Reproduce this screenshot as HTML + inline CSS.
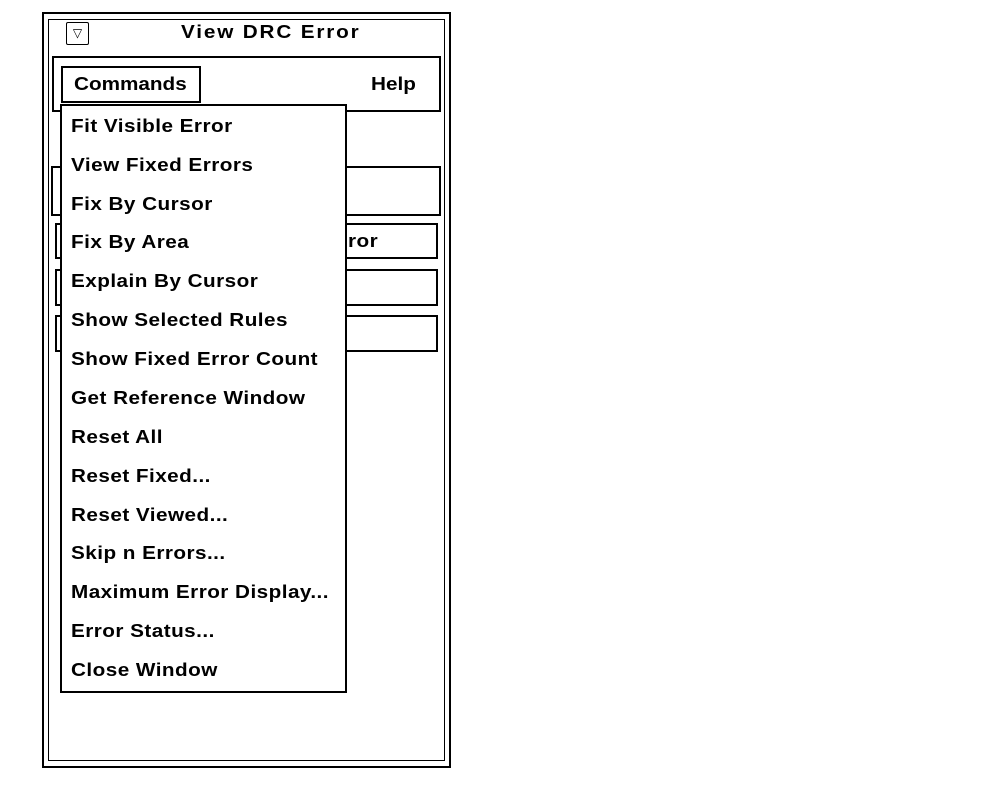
<!DOCTYPE html>
<html><head><style>
body{margin:0;width:1000px;height:796px;background:#fff;position:relative;overflow:hidden;font-family:"Liberation Sans",sans-serif;font-weight:bold;color:#000}
div{position:absolute;box-sizing:border-box}
.t{font-size:18px;line-height:20px;white-space:nowrap;letter-spacing:0.4px;transform:scaleX(1.15);transform-origin:left center}
</style></head><body>
<div style="left:42px;top:12px;width:409px;height:756px;border:2px solid #000"></div>
<div style="left:48px;top:19px;width:397px;height:742px;border:1px solid #000"></div>
<div style="left:66px;top:22px;width:23px;height:23px;border:1px solid #000;border-radius:2px;font-size:12px;text-align:center;line-height:21px;font-weight:normal">▽</div>
<div class="t" style="left:181px;top:22px;letter-spacing:1.6px">View DRC Error</div>
<div style="left:52px;top:56px;width:389px;height:56px;border:2px solid #000"></div>
<div style="left:61px;top:66px;width:140px;height:37px;border:2px solid #000"></div>
<div class="t" style="left:74px;top:74px;letter-spacing:0">Commands</div>
<div class="t" style="left:371px;top:74px;letter-spacing:0">Help</div>
<div style="left:51px;top:166px;width:390px;height:50px;border:2px solid #000"></div>
<div style="left:55px;top:223px;width:383px;height:36px;border:2px solid #000"></div>
<div class="t" style="left:348px;top:231px">ror</div>
<div style="left:55px;top:269px;width:383px;height:37px;border:2px solid #000"></div>
<div style="left:55px;top:315px;width:383px;height:37px;border:2px solid #000"></div>
<div style="left:60px;top:104px;width:287px;height:589px;border:2px solid #000;background:#fff"></div>
<div class="t" style="left:71px;top:116px">Fit Visible Error</div>
<div class="t" style="left:71px;top:155px">View Fixed Errors</div>
<div class="t" style="left:71px;top:194px">Fix By Cursor</div>
<div class="t" style="left:71px;top:232px">Fix By Area</div>
<div class="t" style="left:71px;top:271px">Explain By Cursor</div>
<div class="t" style="left:71px;top:310px">Show Selected Rules</div>
<div class="t" style="left:71px;top:349px">Show Fixed Error Count</div>
<div class="t" style="left:71px;top:388px">Get Reference Window</div>
<div class="t" style="left:71px;top:427px">Reset All</div>
<div class="t" style="left:71px;top:466px">Reset Fixed...</div>
<div class="t" style="left:71px;top:505px">Reset Viewed...</div>
<div class="t" style="left:71px;top:543px">Skip n Errors...</div>
<div class="t" style="left:71px;top:582px">Maximum Error Display...</div>
<div class="t" style="left:71px;top:621px">Error Status...</div>
<div class="t" style="left:71px;top:660px">Close Window</div>
</body></html>
